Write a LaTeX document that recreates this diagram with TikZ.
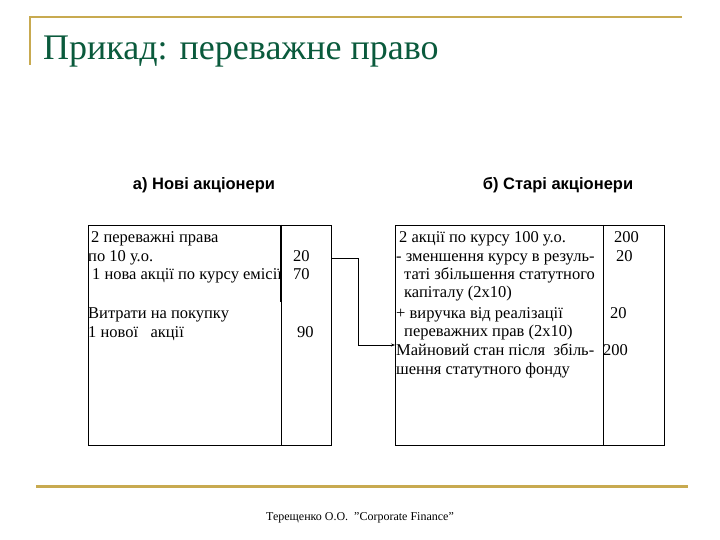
\documentclass[tikz,border=0pt]{standalone}
\usepackage{fontspec}
\usetikzlibrary{arrows.meta}
\setmainfont{Liberation Serif}
\newfontfamily\hdr{Liberation Sans}
\definecolor{gold}{RGB}{200,170,80}
\definecolor{ttl}{RGB}{10,90,60}
\begin{document}
\begin{tikzpicture}[x=1pt,y=-1pt,
  t/.style={anchor=base west,inner sep=0pt,font=\fontsize{16.5}{18}\selectfont},
  h/.style={anchor=base,inner sep=0pt,font=\hdr\bfseries\fontsize{16.5}{18}\selectfont},
  ln/.style={line width=0.8pt}]
\useasboundingbox (0,0) rectangle (720,540);
\draw[gold,line width=1.5pt] (682,17) -- (30,17) -- (30,65);
\node[anchor=base west,inner sep=0pt,text=ttl,font=\fontsize{36}{40}\selectfont] (title) at (43,60) {Прикад: переважне право};
\draw[gold,line width=3pt] (36,486) -- (688,486);
\node[anchor=base,inner sep=0pt,font=\fontsize{12}{14}\selectfont] (foot) at (360,520) {Терещенко О.О. \ "Corporate Finance"};
\node[h] (ha) at (204,190) {а) Нові акціонери};
\node[h] (hb) at (558,190) {б) Старі акціонери};
% left box
\draw[ln] (88,225) rectangle (331,445);
\draw[ln] (281,225) -- (281,445);
\draw[line width=2pt] (281,225) -- (281,302);
\node[t] (l1) at (91,242) {2 переважні права};
\node[t] (l2) at (88,261) {по 10 у.о.};
\node[t] (l3) at (92,279) {1 нова акції по курсу емісії};
\node[t] (l4) at (88,318) {Витрати на покупку};
\node[t] (l5) at (88,337) {1 нової \ \ акції};
\node[t] (n1) at (293,261) {20};
\node[t] (n2) at (293,279) {70};
\node[t] (n3) at (297,337) {90};
% right box
\draw[ln] (395,225) rectangle (664,445);
\draw[ln] (603,225) -- (603,445);
\node[t] (r1) at (399,242) {2 акції по курсу 100 у.о.};
\node[t] (r2) at (396,261) {- зменшення курсу в резуль-};
\node[t] (r3) at (404,279) {таті збільшення статутного};
\node[t] (r4) at (404,297) {капіталу (2х10)};
\node[t] (r5) at (396,318) {+ виручка від реалізації};
\node[t] (r6) at (404,336) {переважних прав (2х10)};
\node[t] (r7) at (396,355) {Майновий стан після \ збіль-};
\node[t] (r8) at (396,374) {шення статутного фонду};
\node[t] (m1) at (614,242) {200};
\node[t] (m2) at (616,261) {20};
\node[t] (m3) at (610,318) {20};
\node[t] (m4) at (603,355) {200};
\coordinate (a0) at (332,258);
\coordinate (a1) at (395,345);
\draw[-{Stealth[length=4pt,width=3pt]},line width=0.8pt] (a0) -- (358,258) |- (a1);
\end{tikzpicture}
\end{document}
